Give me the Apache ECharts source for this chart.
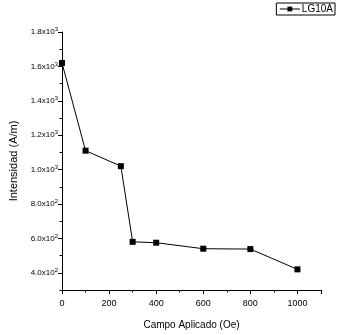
<!DOCTYPE html>
<html><head><meta charset="utf-8">
<script src="https://cdn.jsdelivr.net/npm/echarts@6/dist/echarts.min.js"></script>
<style>html,body{margin:0;padding:0;background:#fff}#c{width:337px;height:335px}</style>
</head><body><div id="c"></div>
<script>
const seriesName = 'LG10A';
const campo = [0, 100, 250, 300, 400, 600, 800, 1000];
const intensidad = [1620, 1110, 1020, 580, 575, 540, 538, 420];
const yMajorTicks = [400, 600, 800, 1000, 1200, 1400, 1600, 1800];
const yMinorTicks = [300, 500, 700, 900, 1100, 1300, 1500, 1700];
const xTitle = 'Campo Aplicado (Oe)';
const yTitle = 'Intensidad (A/m)';

const font = 'Liberation Sans, Arial, sans-serif';
function fmtY(v) {
  if (v >= 1000) return '{b|' + (v / 1000).toFixed(1) + 'x10}{s|3}';
  return '{b|' + (v / 100).toFixed(1) + 'x10}{s|2}';
}
const chart = echarts.init(document.getElementById('c'));
chart.setOption({
  animation: false,
  backgroundColor: '#fff',
  grid: { left: 62, right: 16, top: 32, bottom: 45 },
  legend: {
    right: 2, top: 3, itemWidth: 20, itemHeight: 6, itemGap: 2,
    borderColor: '#000', borderWidth: 1, padding: [1, 2, 1, 3],
    lineStyle: { width: 1 },
    textStyle: { fontFamily: font, fontSize: 10, color: '#000', padding: [0, 0, 0, -3] },
    data: [seriesName]
  },
  xAxis: {
    type: 'value', min: 0, max: 1100, interval: 200,
    name: xTitle, nameLocation: 'middle', nameGap: 30,
    nameTextStyle: { fontFamily: font, fontSize: 10, color: '#000' },
    axisLine: { onZero: false, lineStyle: { color: '#000', width: 1 } },
    axisTick: { inside: false, length: 4, lineStyle: { color: '#000' } },
    minorTick: { show: true, splitNumber: 2, length: 2.5, lineStyle: { color: '#000' } },
    axisLabel: { fontFamily: font, fontSize: 9, color: '#000', margin: 9, showMaxLabel: false,
                 formatter: v => String(v) },
    splitLine: { show: false }
  },
  yAxis: [{
    type: 'value', min: 300, max: 1800, interval: 100,
    name: yTitle, nameLocation: 'middle', nameGap: 36,
    nameTextStyle: { fontFamily: font, fontSize: 11, color: '#000' },
    axisLine: { show: true, lineStyle: { color: '#000', width: 1 } },
    axisTick: { length: 4, customValues: yMajorTicks, lineStyle: { color: '#000' } },
    axisLabel: {
      customValues: yMajorTicks, formatter: fmtY, margin: 4,
      rich: {
        b: { fontFamily: font, fontSize: 8, color: '#000' },
        s: { fontFamily: font, fontSize: 6, color: '#000', verticalAlign: 'top', padding: [0, 0, 5, 0] }
      }
    },
    splitLine: { show: false }
  }, {
    type: 'value', min: 300, max: 1800, interval: 100, position: 'left',
    axisLine: { show: false },
    axisTick: { length: 2.5, customValues: yMinorTicks, lineStyle: { color: '#000' } },
    axisLabel: { show: false },
    splitLine: { show: false }
  }],
  series: [{
    name: seriesName, type: 'line', yAxisIndex: 0,
    data: campo.map((x, i) => [x, intensidad[i]]),
    symbol: 'rect', symbolSize: 6,
    lineStyle: { color: '#000', width: 1 },
    itemStyle: { color: '#000' }
  }]
});
</script></body></html>
